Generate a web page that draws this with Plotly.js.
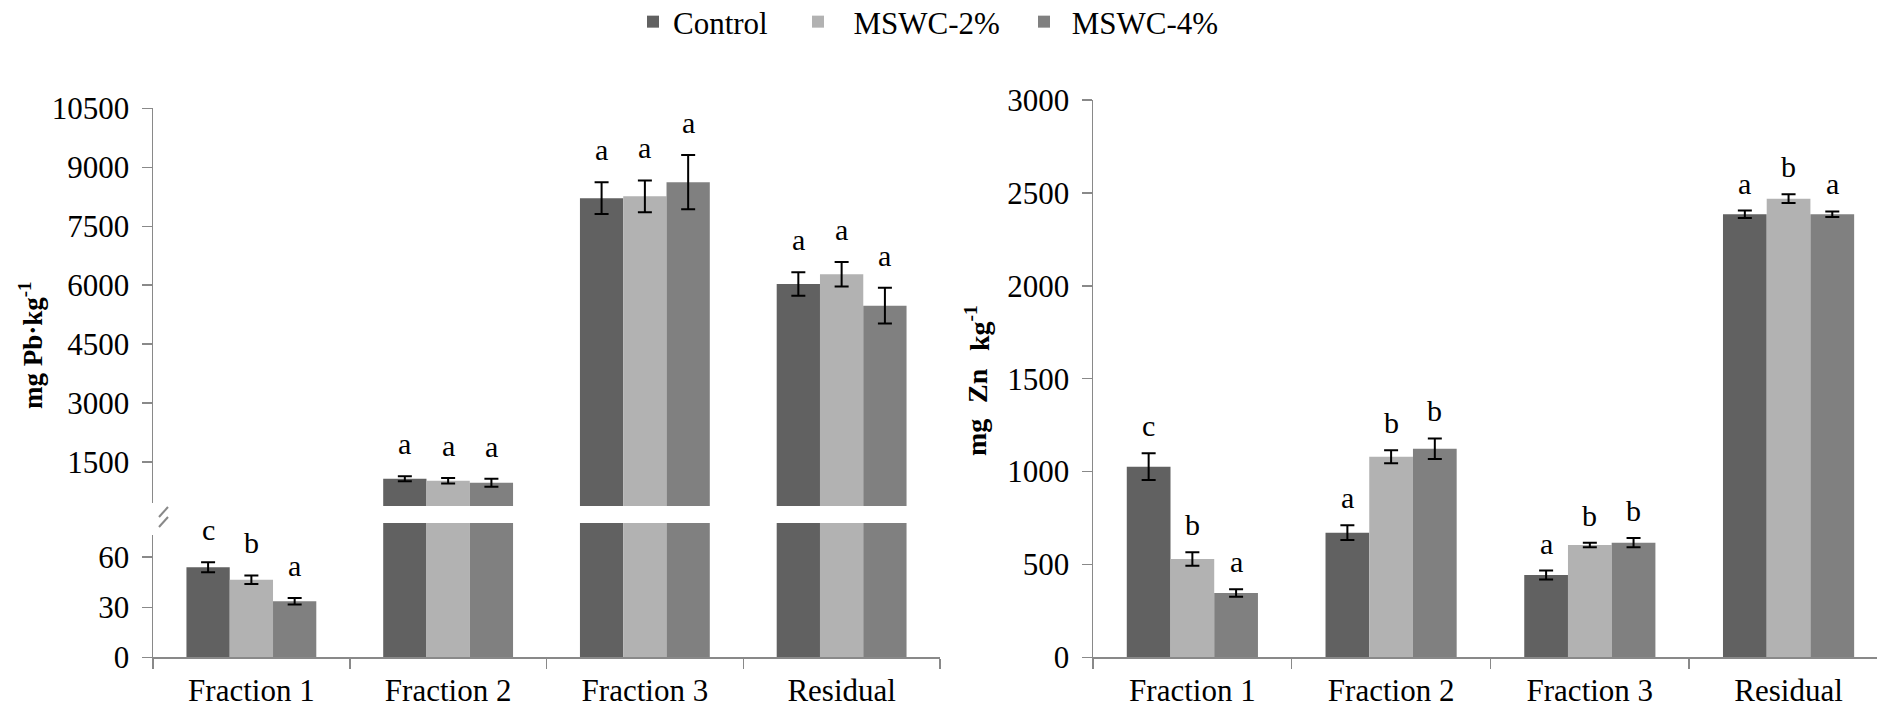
<!DOCTYPE html>
<html>
<head>
<meta charset="utf-8">
<script src="https://cdn.plot.ly/plotly-3.0.1.min.js"></script>
<style>html,body{margin:0;padding:0;background:#fff;}#chart{width:1877px;height:710px;}</style>
</head>
<body>
<div id="chart"></div>
<script>
// ---------- DATA ----------
const categories = ['Fraction 1', 'Fraction 2', 'Fraction 3', 'Residual'];
const seriesNames = ['Control', 'MSWC-2%', 'MSWC-4%'];

// Pb (mg Pb·kg-1)
const pbControl = [54, 1077, 8215, 6030];
const pbMSWC2 = [46.5, 1025, 8260, 6280];
const pbMSWC4 = [33.6, 975, 8620, 5480];
const pbControlErr = [3, 65, 405, 300];
const pbMSWC2Err = [2.6, 70, 405, 310];
const pbMSWC4Err = [2, 100, 690, 455];
const pbControlLetters = ['c', 'a', 'a', 'a'];
const pbMSWC2Letters = ['b', 'a', 'a', 'a'];
const pbMSWC4Letters = ['a', 'a', 'a', 'a'];

// Zn (mg Zn kg-1)
const znControl = [1026, 671, 443, 2385];
const znMSWC2 = [529, 1080, 605, 2469];
const znMSWC4 = [346, 1123, 617, 2385];
const znControlErr = [72, 40, 24, 20];
const znMSWC2Err = [36, 35, 12, 24];
const znMSWC4Err = [20, 55, 25, 15];
const znControlLetters = ['c', 'a', 'a', 'a'];
const znMSWC2Letters = ['b', 'b', 'b', 'b'];
const znMSWC4Letters = ['a', 'b', 'b', 'a'];

// axis titles
const pbTitle = '<b>mg Pb·kg<sup>-1</sup></b>';
const znTitleWords = ['<b>mg</b>', '<b>Zn</b>', '<b>kg<sup>-1</sup></b>'];

// ---------- STYLE ----------
const W = 1877, H = 710;
const px = v => v / W;
const py = v => 1 - v / H;
const FAMILY = 'Liberation Serif';
const font = (size, color) => ({family: FAMILY, size: size, color: color || '#000'});
const colors = ['#616161', '#b2b2b2', '#808080'];
const axisGray = '#898989';
const BARGAP = 0.34;
const upperMin = 385;

const pbVals = [pbControl, pbMSWC2, pbMSWC4];
const pbErrs = [pbControlErr, pbMSWC2Err, pbMSWC4Err];
const pbLet = [pbControlLetters, pbMSWC2Letters, pbMSWC4Letters];
const znVals = [znControl, znMSWC2, znMSWC4];
const znErrs = [znControlErr, znMSWC2Err, znMSWC4Err];
const znLet = [znControlLetters, znMSWC2Letters, znMSWC4Letters];
const legendNames = ['Control', '\u00a0\u00a0MSWC-2%', '\u00a0MSWC-4%'];
const legendIds = ['legend', 'legend2', 'legend3'];

function errOpts(arr) {
  return {type: 'data', array: arr, visible: true, color: '#000', thickness: 2, width: 7};
}

const traces = [];
// Pb upper panel (x, y)
seriesNames.forEach((n, i) => {
  traces.push({type: 'bar', x: categories, y: pbVals[i], name: n, xaxis: 'x', yaxis: 'y',
    marker: {color: colors[i]}, error_y: errOpts(pbErrs[i]), showlegend: false, hoverinfo: 'y'});
});
// Pb lower panel (x, y2)
seriesNames.forEach((n, i) => {
  traces.push({type: 'bar', x: categories, y: pbVals[i], name: n, xaxis: 'x', yaxis: 'y2',
    marker: {color: colors[i]}, error_y: errOpts(pbErrs[i]), showlegend: false, hoverinfo: 'y'});
});
// Zn panel (x2, y3)
seriesNames.forEach((n, i) => {
  traces.push({type: 'bar', x: categories, y: znVals[i], name: legendNames[i], xaxis: 'x2', yaxis: 'y3',
    marker: {color: colors[i]}, error_y: errOpts(znErrs[i]), showlegend: true,
    legend: legendIds[i], hoverinfo: 'y'});
});

// significance letters
const annotations = [];
const bw = (1 - BARGAP) / 3;
seriesNames.forEach((n, i) => {
  categories.forEach((c, j) => {
    const top = pbVals[i][j] + pbErrs[i][j];
    annotations.push({xref: 'x', yref: top < upperMin ? 'y2' : 'y', x: j + (i - 1) * bw, y: top,
      text: pbLet[i][j], showarrow: false, yanchor: 'bottom', yshift: 14, font: font(30)});
    const ztop = znVals[i][j] + znErrs[i][j];
    annotations.push({xref: 'x2', yref: 'y3', x: j + (i - 1) * bw, y: ztop,
      text: znLet[i][j], showarrow: false, yanchor: 'bottom', yshift: 9, font: font(30)});
  });
});
// axis titles
annotations.push({xref: 'paper', yref: 'paper', x: px(31), y: py(345), xanchor: 'center', yanchor: 'middle',
  text: pbTitle, textangle: -90, showarrow: false, font: font(27)});
const znWordCenters = [438, 386, 328];
znTitleWords.forEach((t, k) => {
  annotations.push({xref: 'paper', yref: 'paper', x: px(977), y: py(znWordCenters[k]), xanchor: 'center',
    yanchor: 'middle', text: t, textangle: -90, showarrow: false, font: font(28)});
});

function yAxis(extra) {
  return Object.assign({showline: true, linecolor: axisGray, linewidth: 1.5, ticks: 'outside', ticklen: 10,
    tickcolor: axisGray, tickwidth: 1.5, showgrid: false, zeroline: false, tickfont: font(31),
    tickformat: 'd', ticklabelstandoff: 6, fixedrange: true}, extra);
}
function xAxis(extra) {
  return Object.assign({type: 'category', showline: true, linecolor: axisGray, linewidth: 1.5, ticks: 'outside',
    ticklen: 10, tickcolor: axisGray, tickwidth: 1.5, tickson: 'boundaries', showgrid: false,
    zeroline: false, tickfont: font(31), ticklabelstandoff: 5, fixedrange: true}, extra);
}
function legendAt(xpix) {
  return {orientation: 'h', yanchor: 'middle', y: py(22), xanchor: 'left', x: px(xpix),
    font: font(31), bgcolor: 'rgba(0,0,0,0)', borderwidth: 0};
}

const layout = {
  width: W, height: H,
  font: font(30),
  margin: {l: 0, r: 0, t: 0, b: 0, autoexpand: false},
  paper_bgcolor: '#fff', plot_bgcolor: 'rgba(0,0,0,0)',
  barmode: 'group', bargap: BARGAP, bargroupgap: 0,
  xaxis: xAxis({domain: [px(153), px(940)], anchor: 'y2', range: [-0.5, 3.5]}),
  yaxis: yAxis({domain: [py(506), py(108.3)], anchor: 'x', range: [upperMin, 10500], tick0: 0, dtick: 1500}),
  yaxis2: yAxis({domain: [py(657.3), py(523)], anchor: 'x', range: [0, 80.5], tick0: 0, dtick: 30}),
  xaxis2: xAxis({domain: [px(1093), 1], anchor: 'y3', range: [-0.5, 3.445]}),
  yaxis3: yAxis({domain: [py(657.3), py(100)], anchor: 'x2', range: [0, 3000], tick0: 0, dtick: 500}),
  legend: legendAt(633),
  legend2: legendAt(798),
  legend3: legendAt(1024),
  annotations: annotations,
  shapes: [
    {type: 'rect', xref: 'paper', yref: 'paper', x0: px(145), x1: px(163), y0: py(535), y1: py(503),
      fillcolor: '#fff', line: {width: 0}, layer: 'above'},
    {type: 'line', xref: 'paper', yref: 'paper', x0: px(159), y0: py(517), x1: px(168), y1: py(507),
      line: {color: axisGray, width: 2}, layer: 'above'},
    {type: 'line', xref: 'paper', yref: 'paper', x0: px(159), y0: py(527), x1: px(168), y1: py(517),
      line: {color: axisGray, width: 2}, layer: 'above'}
  ]
};

Plotly.newPlot('chart', traces, layout, {displayModeBar: false, staticPlot: true});
</script>
</body>
</html>
